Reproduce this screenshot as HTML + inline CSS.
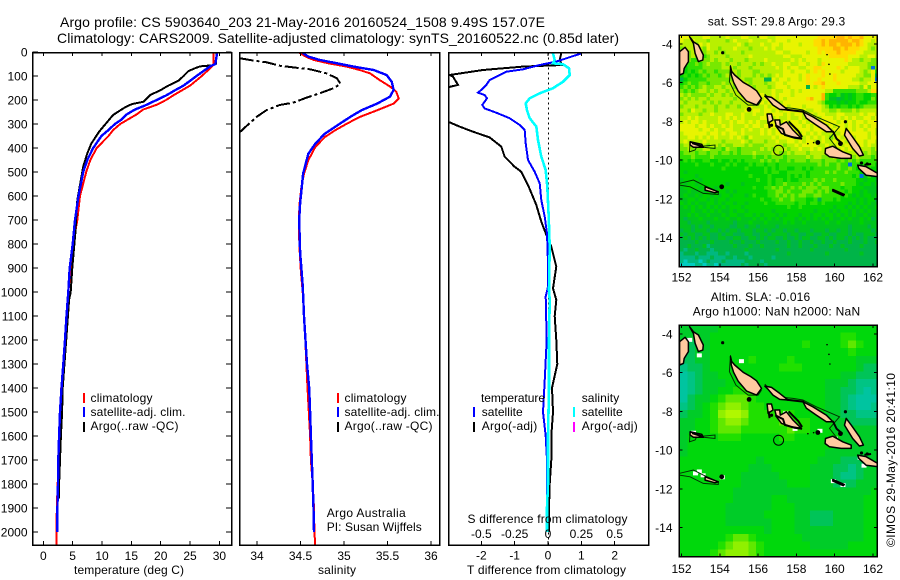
<!DOCTYPE html>
<html lang="en">
<head>
<meta charset="utf-8">
<title>Argo profile 5903640_203</title>
<style>
html,body{margin:0;padding:0;background:#fff;}
svg{display:block;}
text{font-family:"Liberation Sans",sans-serif;font-size:12px;fill:#000;}
.t14{font-size:14px;}
.box{fill:none;stroke:#000;stroke-width:1.5;}
</style>
</head>
<body>
<svg id="fig" xmlns="http://www.w3.org/2000/svg" width="900" height="580" viewBox="0 0 900 580">
<defs>
<clipPath id="clipP1"><rect x="32.5" y="52.5" width="199" height="492.5"/></clipPath>
<clipPath id="clipP2"><rect x="239.5" y="52.5" width="200" height="492.5"/></clipPath>
<clipPath id="clipP3"><rect x="448.5" y="52.5" width="200" height="492.5"/></clipPath>
<clipPath id="clipM1"><rect x="679.3" y="35" width="198" height="231.7"/></clipPath>
<clipPath id="clipM2"><rect x="679.3" y="325" width="198" height="231.7"/></clipPath>
</defs>

<text class="t14" x="60" y="27" textLength="485" lengthAdjust="spacing">Argo profile: CS 5903640_203 21-May-2016 20160524_1508 9.49S 157.07E</text>
<text class="t14" x="57" y="43" textLength="562" lengthAdjust="spacing">Climatology: CARS2009. Satellite-adjusted climatology: synTS_20160522.nc (0.85d later)</text>

<g id="p1"></g>
<g id="p2"></g>
<g id="p3"></g>
<g id="m1"></g>
<g id="m2"></g>

<text x="74" y="574" textLength="110" lengthAdjust="spacing">temperature (deg C)</text>
<text x="318" y="574" textLength="38" lengthAdjust="spacing">salinity</text>
<text x="467" y="574" textLength="159" lengthAdjust="spacing">T difference from climatology</text>
<text x="467.5" y="523" textLength="160" lengthAdjust="spacing">S difference from climatology</text>

<g>
<rect x="83" y="393" width="2" height="10" fill="#ff0000"/>
<text x="90.5" y="402" textLength="62" lengthAdjust="spacing">climatology</text>
<rect x="83" y="407" width="2" height="10" fill="#0000ff"/>
<text x="90.5" y="416" textLength="95" lengthAdjust="spacing">satellite-adj. clim.</text>
<rect x="83" y="422" width="2" height="10" fill="#000"/>
<text x="90.5" y="430" textLength="88" lengthAdjust="spacing">Argo(..raw -QC)</text>
</g>
<g>
<rect x="337" y="393" width="2" height="10" fill="#ff0000"/>
<text x="344.5" y="402" textLength="62" lengthAdjust="spacing">climatology</text>
<rect x="337" y="407" width="2" height="10" fill="#0000ff"/>
<text x="344.5" y="416" textLength="95" lengthAdjust="spacing">satellite-adj. clim.</text>
<rect x="337" y="422" width="2" height="10" fill="#000"/>
<text x="344.5" y="430" textLength="88" lengthAdjust="spacing">Argo(..raw -QC)</text>
</g>
<text x="326.7" y="517" textLength="79" lengthAdjust="spacing">Argo Australia</text>
<text x="326.7" y="531" textLength="95" lengthAdjust="spacing">PI: Susan Wijffels</text>

<g>
<text x="481" y="402" textLength="64" lengthAdjust="spacing">temperature</text>
<rect x="473" y="407" width="2" height="10" fill="#0000ff"/>
<text x="481.7" y="416" textLength="41" lengthAdjust="spacing">satellite</text>
<rect x="473" y="422" width="2" height="10" fill="#000"/>
<text x="481.7" y="430" textLength="55.5" lengthAdjust="spacing">Argo(-adj)</text>
<text x="581.7" y="402" textLength="37.5" lengthAdjust="spacing">salinity</text>
<rect x="573" y="407" width="2" height="10" fill="#00ffff"/>
<text x="581.7" y="416" textLength="41" lengthAdjust="spacing">satellite</text>
<rect x="573" y="422" width="2" height="10" fill="#ff00ff"/>
<text x="581.7" y="430" textLength="56" lengthAdjust="spacing">Argo(-adj)</text>
</g>

<text x="707.7" y="25.5" textLength="137.5" lengthAdjust="spacing">sat. SST: 29.8 Argo: 29.3</text>
<text x="710.7" y="301" textLength="99.5" lengthAdjust="spacing">Altim. SLA: -0.016</text>
<text x="692.7" y="315.7" textLength="167.5" lengthAdjust="spacing">Argo h1000: NaN h2000: NaN</text>
<text transform="translate(895 547) rotate(-90)" x="0" y="0" textLength="174" lengthAdjust="spacing">©IMOS 29-May-2016 20:41:10</text>
</svg>

<script>
// ---------- Profile data (depth in m) ----------
const depthTicks = [0,100,200,300,400,500,600,700,800,900,1000,1100,1200,1300,1400,1500,1600,1700,1800,1900,2000];
const tempTicks = [0,5,10,15,20,25,30];
const salTicks = [34,34.5,35,35.5,36];
const salTickLabels = ['34','34.5','35','35.5','36'];
const tDiffTicks = [-2,-1,0,1,2];
const sDiffTicks = [-0.5,-0.25,0,0.25,0.5];
const sDiffTickLabels = ['-0.5','-0.25','0','0.25','0.5'];

const tempClimDepth = [0,50,60,100,140,160,180,200,220,240,260,280,300,325,350,400,450,500,600,700,800,900,1000,1100,1200,1300,1400,1500,1600,1700,1800,1900,2000,2055];
const tempClim = [29.0,29.0,28.75,27,25,23.6,22.2,20.9,19.3,17,15.9,14.5,13.1,11.9,11.1,9.1,8,7.3,6.25,5.8,5.1,4.7,4.26,4,3.75,3.45,3.05,2.85,2.7,2.55,2.45,2.3,2.27,2.27];
const tempSatDepth = [0,50,60,100,140,160,180,200,220,240,260,280,300,325,350,400,450,500,600,700,800,900,1000,1100,1200,1300,1400,1500,1600,1700,1800,1900,2000];
const tempSat = [29.65,29.3,28.4,26.1,23.9,22.4,21,19.3,17.6,15.6,14.2,13.4,12.2,11.1,9.9,8.5,7.5,6.8,6,5.4,5,4.5,4.26,3.95,3.7,3.4,3.1,2.85,2.7,2.55,2.5,2.4,2.4];
const tempArgoDepth = [0,50,55,60,70,80,100,120,140,160,179,207,217,231,262,297,332,381,422,478,617,756,894,1000,1033,1200,1400,1500,1600,1700,1800,1860];
const tempArgo = [29.5,29.4,29,26.7,25.6,24.7,23.9,23,21.3,19.9,18.2,17.1,15.1,13.9,11.9,10.7,9.5,8.2,7.5,6.8,5.8,5.45,4.95,4.66,4.4,3.9,3.3,3.2,3.0,2.85,2.7,2.65];

const salClimDepth = [0,19,33,47,61,75,89,117,144,165,194,215,243,271,299,326,354,396,451,507,562,632,700,811,922,1000,1200,1400,1500,1600,1700,1800,1900,2000,2055];
const salClim = [34.475,34.56,34.65,34.82,35.03,35.18,35.3,35.41,35.53,35.6,35.63,35.57,35.38,35.18,35.03,34.9,34.78,34.67,34.59,34.54,34.51,34.49,34.48,34.487,34.506,34.525,34.555,34.58,34.595,34.61,34.62,34.64,34.655,34.66,34.67];
const salSatDepth = [0,19,33,47,61,75,96,124,158,186,215,243,271,304,340,382,424,507,562,632,700,833,972,1100,1300,1400,1500,1600,1700,1800,1900,2000];
const salSat = [34.51,34.59,34.72,34.92,35.11,35.34,35.49,35.55,35.57,35.53,35.38,35.2,35.07,34.93,34.78,34.67,34.59,34.53,34.515,34.495,34.485,34.495,34.525,34.54,34.575,34.6,34.61,34.62,34.63,34.64,34.65,34.655];
const salArgoDepth = [26,36,43,57,64,72,89,110,133,151,172,190,211,221,242,269,308,335];
const salArgo = [33.8,33.96,34.11,34.26,34.42,34.61,34.8,34.92,34.96,34.88,34.72,34.57,34.42,34.26,34.11,34,33.88,33.8];

const dTSatDepth = [6,17,40,54,72,82,117,137,158,169,179,193,221,235,253,276,304,325,381,450,499,547,617,686,756,881,978,1019,1200,1370,1500,1600,1700,1800,1860];
const dTSat = [1,0.75,0.25,-0.25,-0.75,-1.25,-1.75,-1.85,-2,-2.1,-1.9,-1.83,-1.97,-1.9,-1.55,-1.15,-0.85,-0.7,-0.67,-0.6,-0.4,-0.25,-0.2,-0.1,-0.03,0,0,-0.07,-0.04,-0.1,-0.15,-0.07,-0.03,-0.03,-0.03];
const dTArgoDepth = [6,33,54,61,75,96,103,137,147,220,290,311,332,356,394,436,478,499,554,637,707,769,811,894,985,1033,1100,1200,1300,1400,1500,1600,1700,1800,1900,2000];
const dTArgo = [0.4,0.35,0.42,-0.75,-1.95,-2.95,-2.85,-2.7,-3,-3.5,-3,-2.65,-2.25,-1.75,-1.4,-1.3,-1,-0.8,-0.6,-0.35,-0.2,-0.03,0.1,0.25,0.15,0.25,0.2,0.25,0.28,0.12,0.15,0.1,0.1,0.05,0.03,0.03];
const dSSatDepth = [6,33,47,51,68,96,124,151,172,193,214,242,276,311,367,436,492,561,686,811,992,1033,1200,1400,1600,1800,1900,2000];
const dSSat = [0.0375,0.05,0.0375,0.1125,0.1575,0.1625,0.1125,0.0375,-0.0625,-0.1375,-0.1675,-0.1575,-0.1375,-0.0875,-0.075,-0.05,-0.0175,-0.005,0.005,0.0125,0.0075,0.0125,0.0075,0.0075,0,0,-0.0075,-0.0075];

// ---------- Map data: each digit is a colour level, rows run north to south ----------
const sstLevels = ['#00ccc0','#00b880','#00b448','#00c41c','#00d400','#30e000','#78e800','#b8f000','#e8f400','#ffdc00','#ffb400','#0070e0'];
const sstRows = [
"8887778877 7787778877 7887788888 8888889999 9aa9a99a88 88",
"8778777677 7767877787 7778788878 8888899a9a aaaa9aa988 78",
"7777687877 7777787677 7877887888 8788899a9a a9aaa9a987 77",
"6777676877 6777877767 7787877888 8888889999 aa9a999887 67",
"6667776776 7677776777 7777788778 8887889899 9a99998877 77",
"5667665677 7767777787 7777777887 7788888889 9999888778 87",
"5565566676 7776777677 7787777778 7878887888 8889877677 66",
"4555656766 6767767776 7677877887 7887887988 8888777776 66",
"5455556666 6777677767 7777787878 8778899888 8987888776 b6",
"4454565665 6667767776 6777777887 8887898988 8878888767 85",
"4545456566 5676767776 7676787888 8789888988 9888887766 82",
"2455555666 6666777667 7722878878 8789889888 9888877677 8b",
"4565566566 6767677767 7767788788 8889899a88 8988888778 88",
"5656567667 7677667776 7776788878 8882878988 8888777686 88",
"6565677676 7767776767 7777877887 8788888877 5555556667 99",
"7676666767 7676776777 7877878887 8888888a54 4534345544 55",
"6767677677 7777677767 7787878788 8889a88a53 3234345544 65",
"7677776767 6776777777 7878887888 8888887644 4343445445 55",
"6777677776 7767767787 7787878878 8878888764 5455454566 66",
"7768776776 7777777878 8788787888 7887788776 6766676777 77",
"6777767787 7788778778 7787888787 8878878877 7887777878 87",
"7787877777 8787878777 7887787787 7878887888 7878787788 78",
"7878878777 8778788787 8778877878 8787878888 8787878878 88",
"8888788787 7878777878 8788887878 8878787878 7887878787 88",
"8888878878 7788778787 7878788788 7888788887 8887878878 87",
"7888888788 7878878777 7878788887 8787878777 7788888887 87",
"7788787878 7778787687 7777878888 7878787876 7878778887 88",
"7877778777 7677778767 7767787788 7878877877 8787888878 87",
"6777677677 6766777676 6677777677 8788887787 7878887878 77",
"6676667766 6576656666 6767677767 7877878787 7787878777 67",
"5666566566 5665656667 6666776676 7776777777 7677777767 66",
"5556555565 5555555556 5565666566 6667677666 7667667666 56",
"4545445544 5445454555 5656565565 6665666566 6565656555 55",
"4444544454 4454544454 5545545555 5555556565 5655b55455 54",
"4444444444 4544444544 4454545544 5545455555 5655654555 44",
"4344444444 4444444444 4454554455 5554555565 6556555453 34",
"4444344444 4444444454 4445444454 5454555555 5555545b35 34",
"3444434444 4444444444 5445455454 4555565655 6555554434 43",
"4344344444 4434443444 4445455655 5565656555 5565554344 34",
"3444434443 4444444445 4455656556 5656665665 5545544433 33",
"3343343434 4434344444 4445566565 5566656565 5554544343 33",
"3433434434 3443444345 4445565656 5665566555 5545434344 34",
"3344344343 4434444444 4544556556 5554452555 4544443434 42",
"4343433443 4344344344 4454455555 4554554544 4444343434 33",
"3434343434 3434443444 4444444454 4544444444 3443434343 34",
"3334334343 4334344344 4444344444 4444434443 4344343434 33",
"3343433433 3434433443 4344434344 4344344344 3434343343 33",
"3233343334 3343343334 3434343444 3434343434 3343433434 23",
"3323333233 3333233343 3343333434 3343333343 3433333433 33",
"3332323323 3332233233 2333323333 3333333333 3333233332 33",
"2332333233 2323323332 3323233233 2333233323 3233233333 23",
"3233223322 3233222332 2332333323 3223322332 2333232233 32",
"2323232322 3322332233 2323322322 3233223323 2332323232 22",
"2222322232 2223223222 3222232232 2322322322 3222322232 23",
"2232223122 2222322232 2322222232 2322232223 2232222322 22",
"2122322212 2222222322 2222232222 2222322222 2223222222 22",
"1222122111 2212222122 2222222232 2222222232 2222222322 22",
"1111211121 1122122212 2222122222 2222222222 2222222222 22",
"1011101211 1211111222 2122222222 2222222222 2222222222 22",
"0000110110 1111112122 2212222222 2222222222 2222222222 22"
];
const slaLevels = ['#00c4a0','#00c484','#00c458','#00cc28','#00d80c','#20e000','#60e800','#90f000','#b0f800'];
const slaRows = [
"3333344444 4444444444 444444",
"3333444444 4444444444 455444",
"2233444444 4444445444 456544",
"2233444444 4444444444 445444",
"2233444445 4444544444 444333",
"1223444444 4445554444 444322",
"0123344444 4444444444 433222",
"0123334444 4444444443 332111",
"0123344555 4444444443 322101",
"0233456665 4444444443 321000",
"1234567765 5444444443 321001",
"2334578875 5555544443 322111",
"3344567765 5556555444 332222",
"3344566655 5555655444 333333",
"3444455544 4445544444 433333",
"3444444444 4444444444 333333",
"3444444444 4444444443 333333",
"4444444444 3444444433 322233",
"4444444443 3344444333 221233",
"4444444433 3334444333 211233",
"4444444433 3333444333 222333",
"4444444333 3333333333 333334",
"4444444333 3344333333 333344",
"4444443333 3344433333 333344",
"4444443333 3444433222 333344",
"4444443333 3344433222 333344",
"4444444444 4344433333 333344",
"4444445665 4444443333 333344",
"4444456776 5444444333 334444",
"4444567776 5444444444 444444"
];
const lonTicks = [152,154,156,158,160,162];
const latTicks = [-4,-6,-8,-10,-12,-14];
const argoLon = 157.07;
const argoLat = -9.49;

// Coastlines as [lon, lat] pairs
const islands = [
[[151.9,-4.4],[152.19,-4.17],[152.36,-4.4],[152.36,-4.91],[152.14,-5.26],[152.1,-5.52],[151.9,-5.6]],
[[152.42,-3.62],[152.62,-3.88],[152.88,-4.05],[153.14,-4.57],[153.11,-4.83],[152.88,-4.91],[152.71,-4.48],[152.62,-3.97]],
[[154.56,-5.17],[154.62,-5.42],[154.78,-5.6],[155.22,-5.98],[155.62,-6.2],[155.92,-6.42],[156.18,-6.81],[155.92,-7.16],[155.4,-6.95],[154.96,-6.44],[154.72,-5.98],[154.6,-5.6]],
[[156.35,-6.69],[156.7,-6.76],[157.13,-7.07],[157.56,-7.41],[157.13,-7.38],[156.78,-7.16],[156.52,-6.86]],
[[158.34,-7.5],[158.86,-7.76],[159.56,-8.19],[159.9,-8.53],[159.56,-8.53],[159.04,-8.19],[158.52,-7.84]],
[[159.52,-9.4],[159.9,-9.28],[160.42,-9.57],[160.86,-9.74],[160.86,-9.91],[160.34,-9.91],[159.73,-9.83],[159.5,-9.66]],
[[160.6,-8.36],[160.86,-8.71],[161.29,-9.31],[161.5,-9.74],[161.29,-9.79],[160.94,-9.4],[160.51,-8.71]],
[[161.2,-10.26],[161.64,-10.34],[162.25,-10.69],[162.25,-10.86],[161.64,-10.78],[161.26,-10.43]],
[[156.87,-7.93],[157.13,-7.93],[157.16,-8.19],[157.48,-8.02],[157.82,-8.45],[158.26,-8.88],[157.74,-8.79],[157.22,-8.62],[156.96,-8.28]],
[[156.47,-7.62],[156.7,-7.62],[156.78,-7.93],[156.52,-8.1]],
[[152.45,-9.05],[153.06,-9.19],[153.14,-9.34],[152.62,-9.34],[152.45,-9.22]],
[[153.23,-11.38],[153.92,-11.64],[153.75,-11.69],[153.23,-11.55]],
[[159.9,-11.52],[160.5,-11.78],[160.45,-11.84],[159.9,-11.6]]
];
const reefs = [
[[154.56,-5.09],[154.5,-5.95],[154.84,-6.64],[155.48,-7.16],[156,-7.16],[156.18,-6.9]],
[[156.35,-6.59],[156.96,-7.24],[157.82,-7.33],[158.34,-7.41],[159.04,-7.76],[160.25,-8.28],[159.73,-8.88],[160.34,-9.66]],
[[152.45,-9.05],[152.42,-9.57],[152.71,-9.48],[152.8,-9.31],[153.75,-9.22],[153.75,-9.4],[153.14,-9.34]],
[[151.9,-11.2],[152.62,-11.03],[153.14,-11.29],[153.92,-11.64],[153.92,-11.78],[153.14,-11.72],[152.45,-11.38],[151.9,-11.29]]
];
const heavyReefs = [
[[157.5,-7.4],[158.4,-7.5]],
[[159.9,-8.5],[160.1,-8.9],[160.4,-9.15]],
[[156.55,-8.0],[156.6,-8.35]],
[[156.9,-8.2],[157.3,-8.4],[157.4,-8.7],[157.9,-8.85],[158.3,-8.9]],
[[157.6,-8.0],[158.1,-8.5],[158.3,-8.8]],
[[152.55,-9.12],[153.1,-9.3]],
[[161.55,-10.25],[161.9,-10.2]]
];
const smallIslandLon = [155.53,154.15,159.12,154.1,160.56,159.6,159.7,159.75,158.6,158.9,161.7,161.4,160.3,156.7];
const smallIslandLat = [-7.38,-4.45,-9.09,-11.38,-8.02,-4.55,-5.05,-5.55,-9.15,-9.1,-10.2,-10.15,-9.15,-8.2];
const smallIslandSize = [3,2,3,3,2,1,1,1,1,1,2,2,3,2];
const missingLon = [152.5,152.8,152.6,153.0,154.0,159.1,159.8,160.3,152.3,152.8,155.0,157.3,157.8,159.9,161.2,161.4];
const missingLat = [-9.0,-11.0,-11.1,-11.2,-11.3,-8.9,-11.5,-11.7,-4.2,-5.0,-5.3,-8.0,-8.8,-9.3,-10.3,-10.7];

// ---------- Axis functions ----------
const yDepth = d => 52 + d * 0.24;
const xTemp = t => 43.3 + t * 5.87;
const xSal = s => 257 + (s - 34) * 87;
const xDT = t => 548 + t * 33.35;
const xDS = s => 548 + s * 133.4;
const lonX = lon => 681.5 + (lon - 152) * 19.15;
const latToY = (lat, y0) => y0 + (-lat - 4) * 19.35;

const NS = 'http://www.w3.org/2000/svg';
function mk(parent, tag, attrs, txt) {
  const el = document.createElementNS(NS, tag);
  for (const k in attrs) el.setAttribute(k, attrs[k]);
  if (txt !== undefined) el.textContent = txt;
  parent.appendChild(el);
  return el;
}
function tickLine(parent, x1, y1, x2, y2) {
  const el = mk(parent, 'line', {x1, y1, x2, y2, stroke: '#000', 'stroke-width': 1, 'shape-rendering': 'crispEdges'});
  
  
}
function tickText(parent, x, y, anchor, s) {
  const el = mk(parent, 'text', {x, y, 'text-anchor': anchor}, s);
  
  
}
function profile(parent, clip, depths, values, xFn, color, dash, width) {
  const pts = depths.map((d, i) => xFn(values[i]).toFixed(1) + ',' + yDepth(d).toFixed(1)).join(' ');
  const a = {points: pts, fill: 'none', stroke: color, 'stroke-width': width || 2, 'clip-path': 'url(#' + clip + ')', 'shape-rendering': 'crispEdges'};
  if (dash) a['stroke-dasharray'] = dash;
  const el = mk(parent, 'polyline', a);
  
  
}
function frame(parent, x, y, w, h) {
  const el = mk(parent, 'rect', {x, y, width: w, height: h, 'class': 'box', 'shape-rendering': 'crispEdges'});
  
  
}

// ---------- Temperature panel ----------
const p1 = document.getElementById('p1');
profile(p1, 'clipP1', tempClimDepth, tempClim, xTemp, '#ff0000');
profile(p1, 'clipP1', tempArgoDepth, tempArgo, xTemp, '#000000');
profile(p1, 'clipP1', tempSatDepth, tempSat, xTemp, '#0000ff', null, 2.4);
frame(p1, 32.5, 52.5, 199, 492.5);
depthTicks.forEach(d => {
  tickLine(p1, 32.5, yDepth(d), 38, yDepth(d));
  tickLine(p1, 226, yDepth(d), 231.5, yDepth(d));
  tickText(p1, 27.5, yDepth(d) + 4.5, 'end', String(d));
});
tempTicks.forEach(t => {
  tickLine(p1, xTemp(t), 52.5, xTemp(t), 56);
  tickLine(p1, xTemp(t), 541, xTemp(t), 545);
  tickText(p1, xTemp(t), 560, 'middle', String(t));
});

// ---------- Salinity panel ----------
const p2 = document.getElementById('p2');
profile(p2, 'clipP2', salClimDepth, salClim, xSal, '#ff0000');
profile(p2, 'clipP2', salArgoDepth, salArgo, xSal, '#000000', '14 3 3 3');
profile(p2, 'clipP2', salSatDepth, salSat, xSal, '#0000ff', null, 2.4);
frame(p2, 239.5, 52.5, 200, 492.5);
salTicks.forEach((s, i) => {
  tickLine(p2, xSal(s), 52.5, xSal(s), 56);
  tickLine(p2, xSal(s), 541, xSal(s), 545);
  tickText(p2, xSal(s), 560, 'middle', salTickLabels[i]);
});

// ---------- Difference panel ----------
const p3 = document.getElementById('p3');
const zero = mk(p3, 'line', {x1: xDT(0) + 0.5, y1: 52.5, x2: xDT(0) + 0.5, y2: 545, stroke: '#000', 'stroke-width': 1, 'stroke-dasharray': '2 3', 'shape-rendering': 'crispEdges'});


profile(p3, 'clipP3', dTArgoDepth, dTArgo, xDT, '#000000');
profile(p3, 'clipP3', dTSatDepth, dTSat, xDT, '#0000ff');
profile(p3, 'clipP3', dSSatDepth, dSSat, xDS, '#00ffff', null, 2.6);
frame(p3, 448.5, 52.5, 200, 492.5);
tDiffTicks.forEach(t => {
  tickLine(p3, xDT(t), 52.5, xDT(t), 56);
  tickLine(p3, xDT(t), 541, xDT(t), 545);
  tickText(p3, xDT(t), 559.5, 'middle', String(t));
});
sDiffTicks.forEach((s, i) => {
  tickText(p3, xDS(s), 538, 'middle', sDiffTickLabels[i]);
});

// ---------- Maps ----------
function drawCoast(parent, y0, clip) {
  const g = mk(parent, 'g', {'clip-path': 'url(#' + clip + ')'});
  
  
  const pt = p => lonX(p[0]).toFixed(1) + ',' + latToY(p[1], y0).toFixed(1);
  reefs.forEach(r => {
    const el = mk(g, 'polyline', {points: r.map(pt).join(' '), fill: 'none', stroke: '#003000', 'stroke-width': 1});
    
    
  });
  islands.forEach(r => {
    const el = mk(g, 'polygon', {points: r.map(pt).join(' '), fill: '#ffcaa0', stroke: '#000', 'stroke-width': 1.5, 'stroke-linejoin': 'round'});
    
    
  });
  heavyReefs.forEach(r => {
    const el = mk(g, 'polyline', {points: r.map(pt).join(' '), fill: 'none', stroke: '#000', 'stroke-width': 2});
    
    
  });
  smallIslandLon.forEach((lon, i) => {
    const el = mk(g, 'circle', {cx: lonX(lon), cy: latToY(smallIslandLat[i], y0), r: smallIslandSize[i] * 0.8, fill: '#000'});
    
    
  });
}
function drawGrid(parent, rows, palette, cellDeg, clip, y0) {
  const g = mk(parent, 'g', {'clip-path': 'url(#' + clip + ')', 'shape-rendering': 'crispEdges'});
  
  
  rows.forEach((row, r) => {
    const cells = row.replace(/ /g, '');
    for (let c = 0; c < cells.length; c++) {
      const lon = 151.9 + c * cellDeg;
      const lat = -3.53 - r * cellDeg;
      const x = lonX(lon), y = latToY(lat, y0);
      const el = mk(g, 'rect', {x: x.toFixed(2), y: y.toFixed(2), width: (cellDeg * 19.15 + 0.6).toFixed(2), height: (cellDeg * 19.35 + 0.6).toFixed(2), fill: palette[parseInt(cells[c], 12)]});
      
      
    }
  });
}
function mapAxes(parent, top, bottom, y0, labelY) {
  frame(parent, 679.3, top, 198, bottom - top);
  lonTicks.forEach(lon => {
    tickLine(parent, lonX(lon), top, lonX(lon), top + 3);
    tickLine(parent, lonX(lon), bottom - 3, lonX(lon), bottom);
    tickText(parent, lonX(lon), labelY, 'middle', String(lon));
  });
  latTicks.forEach(lat => {
    const y = latToY(lat, y0);
    tickLine(parent, 679.3, y, 682.5, y);
    tickLine(parent, 874, y, 877.3, y);
    tickText(parent, 672.5, y + 4.5, 'end', String(lat));
  });
  const c = mk(parent, 'circle', {cx: lonX(argoLon), cy: latToY(argoLat, y0), r: 5, fill: 'none', stroke: '#000', 'stroke-width': 1});
  
  
}
const m1 = document.getElementById('m1');
drawGrid(m1, sstRows, sstLevels, 0.2, 'clipM1', 44);
drawCoast(m1, 44, 'clipM1');
mapAxes(m1, 35, 266.7, 44, 281.7);

const m2 = document.getElementById('m2');
drawGrid(m2, slaRows, slaLevels, 0.4, 'clipM2', 334);
missingLon.forEach((lon, i) => {
  const el = mk(m2, 'rect', {x: lonX(lon), y: latToY(missingLat[i], 334), width: 5, height: 4, fill: '#fff', 'clip-path': 'url(#clipM2)'});
  
  
});
drawCoast(m2, 334, 'clipM2');
mapAxes(m2, 325, 556.7, 334, 573);
</script>
</body>
</html>
